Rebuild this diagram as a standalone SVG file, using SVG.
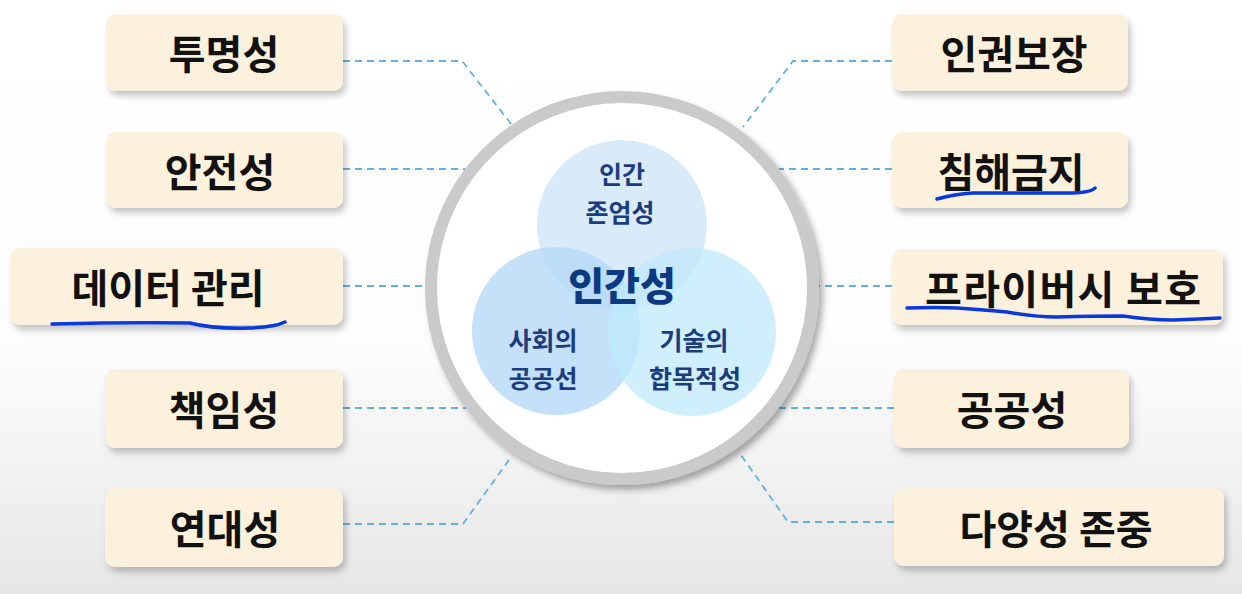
<svg xmlns="http://www.w3.org/2000/svg" width="1242" height="594" viewBox="0 0 1242 594">
<defs>
<linearGradient id="bg" x1="0" y1="0" x2="0" y2="1">
<stop offset="0" stop-color="#ffffff"/>
<stop offset="0.6" stop-color="#fcfcfc"/>
<stop offset="1" stop-color="#e6e6e6"/>
</linearGradient>
<filter id="boxShadow" x="-10%" y="-20%" width="125%" height="150%">
<feDropShadow dx="3" dy="5" stdDeviation="3" flood-color="#000" flood-opacity="0.22"/>
</filter>
<filter id="ringShadow" x="-10%" y="-10%" width="125%" height="125%">
<feDropShadow dx="4" dy="5" stdDeviation="3" flood-color="#000" flood-opacity="0.32"/>
</filter>
<style>
.box{fill:#fcf1dc;filter:url(#boxShadow)}
.lbl{font-family:"Noto Sans CJK KR","Noto Sans",sans-serif;font-weight:700;font-size:40px;fill:#111;text-anchor:middle;dominant-baseline:central}
.in{font-family:"Noto Sans CJK KR","Noto Sans",sans-serif;font-weight:700;font-size:25px;fill:#1b3d7e;text-anchor:middle;dominant-baseline:central}
.core{font-family:"Noto Sans CJK KR","Noto Sans",sans-serif;font-weight:900;font-size:39px;fill:#0c3a82;text-anchor:middle;dominant-baseline:central}
.con{fill:none;stroke:#62b0e0;stroke-width:1.8;stroke-dasharray:7 5}
.ul{fill:none;stroke:#0838e0;stroke-width:3.5;stroke-linecap:round;stroke-linejoin:round}
</style>
</defs>
<rect x="0" y="0" width="1242" height="594" fill="url(#bg)"/>

<g id="connectors">
<path class="con" d="M343,61 H462 L512,125"/>
<path class="con" d="M343,169 H465"/>
<path class="con" d="M343,286 H425"/>
<path class="con" d="M343,408 H466"/>
<path class="con" d="M343,524 H463 L511,457"/>
<path class="con" d="M892,61 H793 L743,127"/>
<path class="con" d="M892,169 H779"/>
<path class="con" d="M892,286 H819"/>
<path class="con" d="M894,408 H778"/>
<path class="con" d="M894,522 H788 L741,455"/>
</g>

<g id="center">
<circle cx="622" cy="288" r="191" fill="#ffffff" stroke="#cacaca" stroke-width="12" filter="url(#ringShadow)"/>
<circle cx="622" cy="225" r="85" fill="#cfe6f8" fill-opacity="0.8"/>
<circle cx="556" cy="331" r="84" fill="#b3d9f7" fill-opacity="0.78"/>
<circle cx="692" cy="332" r="84" fill="#bfeafb" fill-opacity="0.75"/>
<text class="in" x="622" y="173">인간</text>
<text class="in" x="620" y="211">존엄성</text>
<text class="core" x="622" y="283">인간성</text>
<text class="in" x="543" y="339">사회의</text>
<text class="in" x="543" y="377">공공선</text>
<text class="in" x="694" y="339">기술의</text>
<text class="in" x="695" y="377">합목적성</text>
</g>

<g id="n-transparency"><rect class="box" x="106" y="14" width="237" height="77" rx="10"/><text class="lbl" x="224" y="52">투명성</text></g>
<g id="n-safety"><rect class="box" x="106" y="132" width="237" height="76" rx="10"/><text class="lbl" x="220" y="170">안전성</text></g>
<g id="n-data"><rect class="box" x="10" y="248" width="333" height="77" rx="10"/><text class="lbl" x="168" y="286">데이터 관리</text></g>
<g id="n-responsibility"><rect class="box" x="105" y="369" width="238" height="79" rx="10"/><text class="lbl" x="224" y="408">책임성</text></g>
<g id="n-solidarity"><rect class="box" x="105" y="488" width="238" height="79" rx="10"/><text class="lbl" x="225" y="527">연대성</text></g>

<g id="n-rights"><rect class="box" x="892" y="14" width="236" height="77" rx="10"/><text class="lbl" x="1014" y="52">인권보장</text></g>
<g id="n-noharm"><rect class="box" x="892" y="132" width="236" height="76" rx="10"/><text class="lbl" x="1011" y="170">침해금지</text></g>
<g id="n-privacy"><rect class="box" x="892" y="249" width="331" height="76" rx="10"/><text class="lbl" x="1063" y="287" textLength="276" lengthAdjust="spacing">프라이버시 보호</text></g>
<g id="n-public"><rect class="box" x="894" y="369" width="235" height="79" rx="10"/><text class="lbl" x="1012" y="408">공공성</text></g>
<g id="n-diversity"><rect class="box" x="894" y="488" width="330" height="78" rx="10"/><text class="lbl" x="1056" y="527">다양성 존중</text></g>

<g id="annotations">
<path class="ul" d="M52,324 Q130,322 190,323 Q212,329 250,328 Q275,327 285,322"/>
<path class="ul" d="M937,199 Q955,194 973,193 Q1030,193 1073,193 Q1092,192 1095,188"/>
<path class="ul" d="M907,308 Q935,307 957,308 Q985,310 1007,312 Q1035,317 1057,317 Q1095,316 1123,316 Q1150,320 1173,320 Q1200,319 1220,318"/>
</g>
</svg>
